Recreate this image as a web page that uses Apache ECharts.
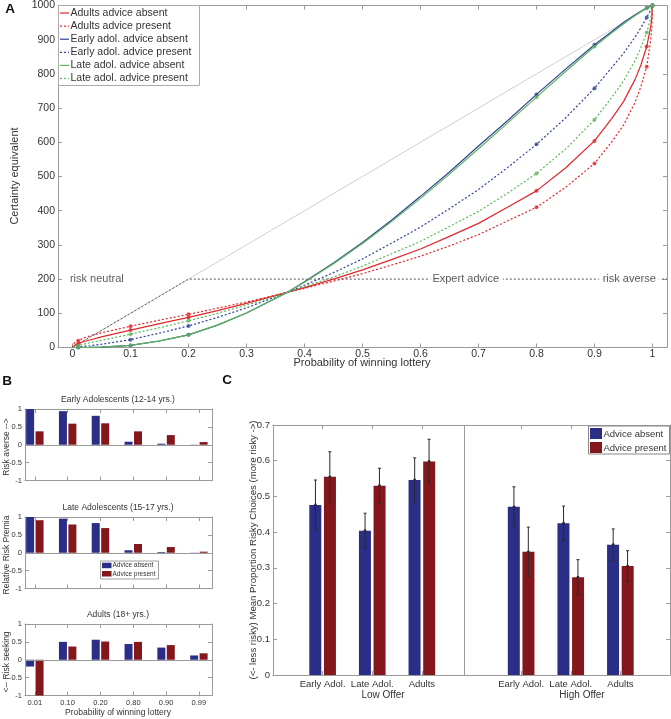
<!DOCTYPE html>
<html><head><meta charset="utf-8">
<script src="https://cdn.jsdelivr.net/npm/echarts@6/dist/echarts.min.js"></script>
<style>html,body{margin:0;padding:0;background:#fff}#c{width:671px;height:719px}</style>
</head><body><div id="c"></div>
<script>
// ---------------- Panel A data (certainty equivalents) ----------------
const probGrid        = [0, 0.001, 0.005, 0.01, 0.02, 0.03, 0.05, 0.1, 0.15, 0.2, 0.25, 0.3, 0.37, 0.4, 0.45, 0.5, 0.55, 0.6, 0.65, 0.7, 0.75, 0.8, 0.85, 0.9, 0.93, 0.95, 0.97, 0.98, 0.99, 0.997, 0.999, 1];
const ceAdultsAbsent  = [0, 3.6, 8, 12, 17.5, 22, 31, 51, 70, 88, 108, 129, 161, 175, 200, 227, 257, 288, 325, 363, 410, 458, 525, 604, 670, 719, 784, 826, 880, 939, 967, 1000];
const ceAdultsPresent = [0, 8.9, 15.8, 20, 28, 34, 43, 62, 80, 97, 115, 133, 161, 173, 194, 216, 241, 267, 297, 330, 370, 410, 468, 538, 602, 650, 717, 763, 821, 899, 940, 1000];
const ceEarlyAbsent   = [0, 0, 0, 0, 0, 0.3, 1.1, 6, 19, 37, 65, 101, 161, 192, 247, 307, 372, 442, 513, 589, 663, 740, 814, 885, 924, 950, 973, 983, 993, 998, 999.5, 1000];
const ceEarlyPresent  = [0, 0.1, 0.5, 1.5, 2.9, 5, 9.5, 23, 42, 63, 88, 116, 161, 182, 219, 259, 305, 352, 406, 462, 526, 594, 671, 758, 819, 860, 908, 935, 965, 987, 995, 1000];
const ceLateAbsent    = [0, 0, 0, 0, 0, 0.3, 1.2, 6, 19.5, 37, 66, 101, 161, 191, 245, 304, 368, 436, 507, 581, 656, 732, 807, 880, 920, 946, 971, 982, 992, 998, 999.5, 1000];
const ceLatePresent   = [0, 1.2, 3.5, 6, 10, 14, 21, 39, 58, 78, 100, 124, 161, 178, 206, 238, 274, 310, 354, 398, 451, 509, 580, 666, 732, 779, 839, 877, 921, 964, 983, 1000];
const markerProbs     = [0.01, 0.1, 0.2, 0.8, 0.9, 0.99, 1];
const legendNamesA    = ['Adults advice absent', 'Adults advice present', 'Early adol. advice absent', 'Early adol. advice present', 'Late adol. advice absent', 'Late adol. advice present'];
const xTicksA         = [0, 0.1, 0.2, 0.3, 0.4, 0.5, 0.6, 0.7, 0.8, 0.9, 1];
const xTickLabelsA    = ['0', '0.1', '0.2', '0.3', '0.4', '0.5', '0.6', '0.7', '0.8', '0.9', '1'];
const riskNeutralLine = [[0, 0], [1, 1000]];
const expertLine      = [[0, 0], [0.2, 200], [1.025, 200]];
const annotationsA    = [[0.042, 200, 'risk neutral'], [0.678, 200, 'Expert advice'], [0.96, 200, 'risk averse']];

// ---------------- Panel B data (relative risk premia) ----------------
const riskProbLabels  = ['0.01', '0.10', '0.20', '0.80', '0.90', '0.99'];
const riskProbPos     = [1, 2, 3, 4, 5, 6];
const premEarlyAbsent  = [1.0, 0.94, 0.81, 0.085, 0.03, 0.005];
const premEarlyPresent = [0.375, 0.59, 0.60, 0.375, 0.27, 0.075];
const premLateAbsent   = [1.0, 0.955, 0.83, 0.07, 0.02, 0.005];
const premLatePresent  = [0.91, 0.79, 0.69, 0.245, 0.16, 0.03];
const premAdultsAbsent = [-0.19, 0.50, 0.56, 0.44, 0.34, 0.12];
const premAdultsPresent= [-1.0, 0.37, 0.51, 0.50, 0.41, 0.18];
const subTitlesB = ['Early Adolescents (12-14 yrs.)', 'Late Adolescents (15-17 yrs.)', 'Adults (18+ yrs.)'];
const yTitlesB   = ['Risk averse -->', 'Relative Risk Premia', '<-- Risk seeking'];

// ---------------- Panel C data (mean proportion risky choices) ----------------
const groupLabels  = ['Early Adol.', 'Late Adol.', 'Adults', 'Early Adol.', 'Late Adol.', 'Adults'];
const groupPos     = [1, 2, 3, 5, 6, 7];
const meanAbsent   = [0.476, 0.404, 0.546, 0.471, 0.425, 0.365];
const meanPresent  = [0.555, 0.530, 0.598, 0.345, 0.274, 0.305];
const errAbsent    = [0.070, 0.049, 0.062, 0.056, 0.048, 0.044];
const errPresent   = [0.070, 0.049, 0.062, 0.069, 0.049, 0.043];
const offerLabels  = ['Low Offer', 'High Offer'];

// ---------------- styling ----------------
const FF = 'Liberation Sans, Arial, Helvetica, sans-serif';
const AX = '#9a9a9a', TX = '#333';
const RED = '#e3262b', BLUE = '#2f4196', GREEN = '#5cb55a';
const BAR_BLUE = '#2b2e86', BAR_RED = '#84171b';

function pairs(xs, ys) { return xs.map((x, i) => [x, ys[i]]); }

function mkX(grid, pos, min, max, ticks, labelOpts) {
  return {
    type: 'value', gridIndex: grid, position: pos, min: min, max: max,
    splitLine: { show: false },
    axisLine: { show: true, onZero: false, lineStyle: { color: AX, width: 1 } },
    axisTick: { show: true, inside: true, length: 4, customValues: ticks, lineStyle: { color: AX } },
    axisLabel: labelOpts ? Object.assign({ show: true, customValues: ticks, color: TX, fontFamily: FF }, labelOpts) : { show: false }
  };
}
function mkY(grid, pos, min, max, interval, labelOpts) {
  return {
    type: 'value', gridIndex: grid, position: pos, min: min, max: max, interval: interval,
    splitLine: { show: false },
    axisLine: { show: true, onZero: false, lineStyle: { color: AX, width: 1 } },
    axisTick: { show: true, inside: true, length: 4, lineStyle: { color: AX } },
    axisLabel: labelOpts ? Object.assign({ show: true, color: TX, fontFamily: FF, formatter: v => String(v) }, labelOpts) : { show: false }
  };
}

const grids = [
  { left: 58, top: 5, width: 609, height: 342.5 },      // A
  { left: 25, top: 409, width: 187, height: 71.5 },     // B1
  { left: 25, top: 517, width: 187, height: 71.5 },     // B2
  { left: 25, top: 624, width: 187, height: 71.5 },     // B3
  { left: 273, top: 425, width: 397, height: 250 }      // C
];

const xAxes = [
  mkX(0, 'bottom', -0.025, 1.025, xTicksA, { fontSize: 10.5, margin: 1, formatter: v => xTickLabelsA[xTicksA.indexOf(v)] }),
  mkX(0, 'top', -0.025, 1.025, xTicksA, null),
];
const yAxes = [
  mkY(0, 'left', 0, 1000, 100, { fontSize: 10.5, margin: 3 }),
  mkY(0, 'right', 0, 1000, 100, null)
];
for (let g = 0; g < 3; g++) {
  xAxes.push(mkX(1 + g, 'bottom', 0.7, 6.4, riskProbPos, g === 2 ? { fontSize: 7.5, margin: 3, formatter: v => riskProbLabels[riskProbPos.indexOf(v)] } : null));
  xAxes.push(mkX(1 + g, 'top', 0.7, 6.4, riskProbPos, null));
  yAxes.push(mkY(1 + g, 'left', -1, 1, 0.5, { fontSize: 7.5, margin: 3 }));
  yAxes.push(mkY(1 + g, 'right', -1, 1, 0.5, null));
}
xAxes.push(mkX(4, 'bottom', 0, 8, groupPos, { fontSize: 9.5, margin: 4, formatter: v => groupLabels[groupPos.indexOf(v)] }));
xAxes.push(mkX(4, 'top', 0, 8, groupPos, null));
yAxes.push(mkY(4, 'left', 0, 0.7, 0.1, { fontSize: 9.5, margin: 3 }));
yAxes.push(mkY(4, 'right', 0, 0.7, 0.1, null));

const series = [];
// ---- Panel A ----
series.push({ type: 'line', xAxisIndex: 0, yAxisIndex: 0, data: riskNeutralLine, symbol: 'none', silent: true,
  lineStyle: { color: '#cfcfcf', width: 1 }, z: 1 });
series.push({ type: 'line', xAxisIndex: 0, yAxisIndex: 0, data: expertLine, symbol: 'none', silent: true,
  lineStyle: { color: '#555', width: 1, type: [2, 2] }, z: 2 });

const curvesA = [
  { data: ceAdultsAbsent, color: RED, dash: 'solid' },
  { data: ceAdultsPresent, color: RED, dash: [2, 2] },
  { data: ceEarlyAbsent, color: BLUE, dash: 'solid' },
  { data: ceEarlyPresent, color: BLUE, dash: [2, 2] },
  { data: ceLateAbsent, color: GREEN, dash: 'solid' },
  { data: ceLatePresent, color: GREEN, dash: [2, 2] }
];
curvesA.forEach((c, i) => {
  series.push({ type: 'line', name: legendNamesA[i], xAxisIndex: 0, yAxisIndex: 0, data: pairs(probGrid, c.data),
    symbol: 'none', smooth: false, lineStyle: { color: c.color, width: 1.2, type: c.dash }, z: 3 + i });
  series.push({ type: 'scatter', xAxisIndex: 0, yAxisIndex: 0, symbol: 'circle', symbolSize: 4,
    itemStyle: { color: c.color }, z: 10,
    data: markerProbs.map(p => [p, c.data[probGrid.indexOf(p)]]) });
});
series.push({ type: 'scatter', xAxisIndex: 0, yAxisIndex: 0, symbolSize: 0, z: 20, silent: true,
  data: annotationsA,
  label: { show: true, position: 'inside', formatter: p => p.value[2], fontSize: 11, fontFamily: FF, color: TX,
    backgroundColor: '#fff', padding: [1, 4] } });

// ---- Panel B ----
const premB = [[premEarlyAbsent, premEarlyPresent], [premLateAbsent, premLatePresent], [premAdultsAbsent, premAdultsPresent]];
premB.forEach((pr, g) => {
  series.push({ type: 'bar', xAxisIndex: 2 + 2 * g, yAxisIndex: 2 + 2 * g, data: pairs(riskProbPos, pr[0]),
    barWidth: 8, barGap: '18%', itemStyle: { color: BAR_BLUE },
    markLine: { silent: true, symbol: 'none', label: { show: false }, lineStyle: { color: AX, type: 'solid', width: 1 }, data: [{ yAxis: 0 }] } });
  series.push({ type: 'bar', xAxisIndex: 2 + 2 * g, yAxisIndex: 2 + 2 * g, data: pairs(riskProbPos, pr[1]),
    barWidth: 8, barGap: '18%', itemStyle: { color: BAR_RED } });
});

// ---- Panel C ----
series.push({ type: 'bar', xAxisIndex: 8, yAxisIndex: 8, data: pairs(groupPos, meanAbsent), barWidth: 12, barGap: '22%',
  itemStyle: { color: BAR_BLUE },
  markLine: { silent: true, symbol: 'none', label: { show: false }, lineStyle: { color: AX, type: 'solid', width: 1 }, data: [{ xAxis: 4 }] } });
series.push({ type: 'bar', xAxisIndex: 8, yAxisIndex: 8, data: pairs(groupPos, meanPresent), barWidth: 12, barGap: '22%',
  itemStyle: { color: BAR_RED } });
function errRender(offset) {
  return function (params, api) {
    const x = api.value(0), m = api.value(1), e = api.value(2);
    const top = api.coord([x, m + e]), bot = api.coord([x, m - e]), mid = api.coord([x, m]);
    const cx = top[0] + offset, st = { stroke: '#2a2a2a', lineWidth: 1 };
    return { type: 'group', children: [
      { type: 'line', shape: { x1: cx, y1: top[1], x2: cx, y2: bot[1] }, style: st },
      { type: 'line', shape: { x1: cx - 1.5, y1: top[1], x2: cx + 1.5, y2: top[1] }, style: st },
      { type: 'line', shape: { x1: cx - 1.5, y1: bot[1], x2: cx + 1.5, y2: bot[1] }, style: st },
      { type: 'circle', shape: { cx: cx, cy: mid[1], r: 1.4 }, style: { fill: '#2a2a2a' } }
    ] };
  };
}
series.push({ type: 'custom', xAxisIndex: 8, yAxisIndex: 8, renderItem: errRender(-7.2), z: 10, silent: true,
  data: groupPos.map((p, i) => [p, meanAbsent[i], errAbsent[i]]), encode: { x: 0, y: 1 } });
series.push({ type: 'custom', xAxisIndex: 8, yAxisIndex: 8, renderItem: errRender(7.2), z: 10, silent: true,
  data: groupPos.map((p, i) => [p, meanPresent[i], errPresent[i]]), encode: { x: 0, y: 1 } });

// ---------------- graphic (titles, legends, panel letters) ----------------
function txt(x, y, text, size, opts) {
  return Object.assign({ type: 'text', x: x, y: y, silent: true,
    style: Object.assign({ text: text, fontSize: size, fontFamily: FF, fill: TX, align: 'center', verticalAlign: 'middle' }, (opts && opts.style) || {}) },
    opts && opts.rotation ? { rotation: opts.rotation } : {});
}
const graphics = [];
graphics.push(txt(10, 9, 'A', 13.5, { style: { fontWeight: 'bold', fill: '#111' } }));
graphics.push(txt(7, 381, 'B', 13.5, { style: { fontWeight: 'bold', fill: '#111' } }));
graphics.push(txt(227, 380, 'C', 13.5, { style: { fontWeight: 'bold', fill: '#111' } }));
// Panel A titles
graphics.push(txt(362, 362.5, 'Probability of winning lottery', 11));
graphics.push(txt(15, 176, 'Certainty equivalent', 11, { rotation: Math.PI / 2 }));
// Panel A legend
graphics.push({ type: 'rect', shape: { x: 58.5, y: 5.5, width: 141, height: 80 }, style: { fill: '#fff', stroke: '#aaa', lineWidth: 1 }, z: 50, silent: true });
curvesA.forEach((c, i) => {
  const y = 13 + 13.1 * i;
  graphics.push({ type: 'line', shape: { x1: 60, y1: y, x2: 69, y2: y }, style: { stroke: c.color, lineWidth: 1.2, lineDash: c.dash === 'solid' ? null : [2, 2] }, z: 51, silent: true });
  graphics.push(Object.assign(txt(70.5, y, legendNamesA[i], 10.5, { style: { align: 'left' } }), { z: 51 }));
});
// Panel B titles
const bTops = [409, 517, 624];
subTitlesB.forEach((t, g) => {
  graphics.push(txt(118, bTops[g] - 9, t, 8.5));
  graphics.push(txt(7, bTops[g] + 38, yTitlesB[g], 8.5, { rotation: Math.PI / 2 }));
});
graphics.push(txt(118, 713, 'Probability of winning lottery', 8.5));
// Panel B legend
graphics.push({ type: 'rect', shape: { x: 100.5, y: 561, width: 58, height: 18 }, style: { fill: '#fff', stroke: '#888', lineWidth: 0.8 }, z: 50, silent: true });
graphics.push({ type: 'rect', shape: { x: 102, y: 562.7, width: 9.5, height: 5.5 }, style: { fill: BAR_BLUE }, z: 51, silent: true });
graphics.push({ type: 'rect', shape: { x: 102, y: 571, width: 9.5, height: 5.5 }, style: { fill: BAR_RED }, z: 51, silent: true });
graphics.push(Object.assign(txt(112.5, 565.6, 'Advice absent', 6.5, { style: { align: 'left' } }), { z: 51 }));
graphics.push(Object.assign(txt(112.5, 574, 'Advice present', 6.5, { style: { align: 'left' } }), { z: 51 }));
// Panel C titles
graphics.push(txt(253, 550, '(<- less risky) Mean Proportion Risky Choices (more risky ->)', 9.6, { rotation: Math.PI / 2 }));
graphics.push(txt(383, 695, offerLabels[0], 10));
graphics.push(txt(582, 695, offerLabels[1], 10));
// Panel C legend
graphics.push({ type: 'rect', shape: { x: 588.5, y: 426, width: 81, height: 28 }, style: { fill: '#fff', stroke: '#888', lineWidth: 1 }, z: 50, silent: true });
graphics.push({ type: 'rect', shape: { x: 590, y: 428, width: 12, height: 11 }, style: { fill: BAR_BLUE }, z: 51, silent: true });
graphics.push({ type: 'rect', shape: { x: 590, y: 442, width: 12, height: 11 }, style: { fill: BAR_RED }, z: 51, silent: true });
graphics.push(Object.assign(txt(603.5, 434, 'Advice absent', 9.5, { style: { align: 'left' } }), { z: 51 }));
graphics.push(Object.assign(txt(603.5, 448, 'Advice present', 9.5, { style: { align: 'left' } }), { z: 51 }));

const chart = echarts.init(document.getElementById('c'), null, { renderer: 'canvas' });
chart.setOption({
  animation: false,
  backgroundColor: '#fff',
  textStyle: { fontFamily: FF },
  grid: grids,
  xAxis: xAxes,
  yAxis: yAxes,
  series: series,
  graphic: graphics
});
</script></body></html>
